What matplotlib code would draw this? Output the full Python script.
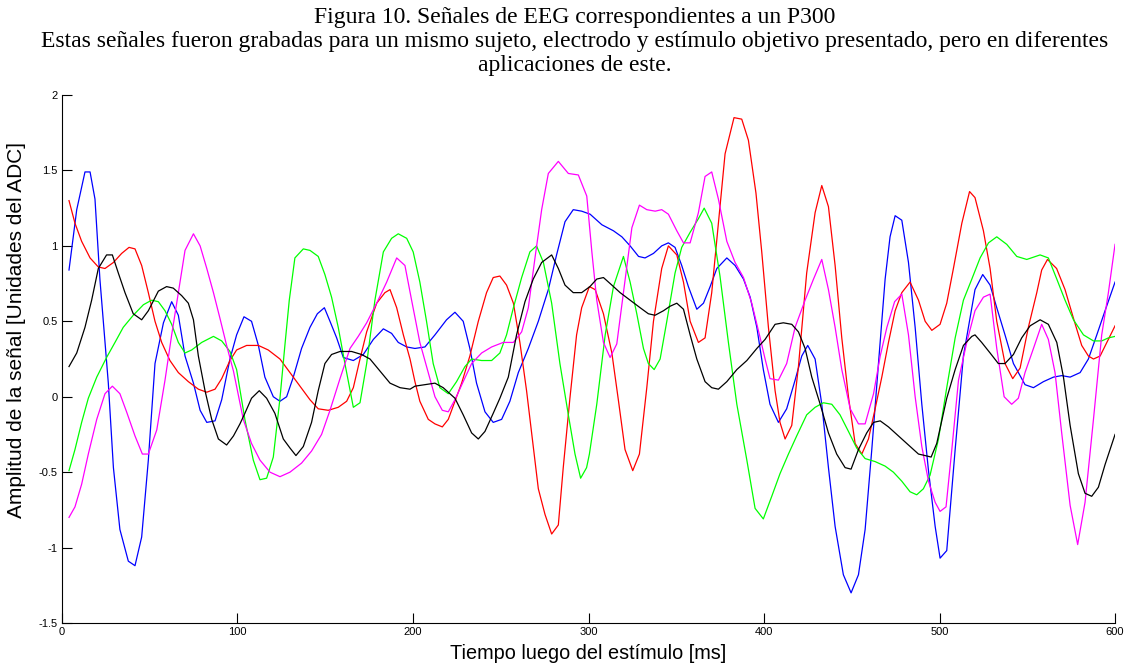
"""
EEG traces for one subject / electrode / target stimulus (P300), five trials.
Writes out.png.
"""

import numpy as np
import matplotlib
matplotlib.use("Agg")
import matplotlib.pyplot as plt

# ── Trial traces: (time [ms], amplitude [ADC units]) ─────────────────────────
blue = np.array([
    (4, 0.84), (8.4, 1.24), (13.1, 1.49), (16, 1.49), (18.8, 1.31), (21.6, 0.78),
    (26.4, 0.09), (29.3, -0.47), (33, -0.88), (37.8, -1.09), (41.6, -1.12),
    (45.4, -0.93), (49.2, -0.42), (53, 0.22), (57.8, 0.49), (62.5, 0.63),
    (66.3, 0.54), (70.1, 0.27), (74.9, 0.09), (78.7, -0.09), (82.5, -0.17),
    (87.2, -0.16), (91, -0.02), (95.7, 0.25), (99.5, 0.41), (103.7, 0.53),
    (108, 0.50), (111.9, 0.34), (115.6, 0.13), (120.4, 0.0), (124.2, -0.03),
    (128, 0.0), (131.8, 0.13), (136.5, 0.32), (141.3, 0.46), (145.5, 0.55),
    (149.5, 0.59), (152.7, 0.50), (156.5, 0.39), (160.3, 0.26), (166, 0.24),
    (171.7, 0.28), (177.4, 0.38), (183.1, 0.45), (187.8, 0.42), (191.6, 0.36),
    (196.4, 0.33), (201.1, 0.32), (206.8, 0.33), (212.5, 0.41), (219.1, 0.51),
    (223.9, 0.56), (228.6, 0.50), (232.4, 0.32), (236.2, 0.09), (241, -0.10),
    (245.7, -0.17), (250.5, -0.15), (255.2, -0.03), (260, 0.16), (265.7, 0.32),
    (271.4, 0.50), (277.1, 0.71), (281.8, 0.94), (286.6, 1.16), (291.3, 1.24),
    (296.1, 1.23), (300.9, 1.21), (307.6, 1.14), (314.2, 1.10), (319, 1.06),
    (323.7, 1.0), (328.5, 0.93), (332.2, 0.92), (337, 0.95), (341.7, 1.0),
    (345.5, 1.02), (349.3, 0.99), (353.1, 0.87), (356.9, 0.73), (361.7, 0.58),
    (365.5, 0.62), (369.3, 0.73), (373.1, 0.85), (378.8, 0.92), (383.5, 0.87),
    (388.3, 0.78), (392.1, 0.66), (395.9, 0.46), (399.6, 0.18), (403.4, -0.05),
    (408.2, -0.17), (412.9, -0.08), (417.7, 0.11), (421.5, 0.27), (424.9, 0.34),
    (429.1, 0.25), (432.9, -0.05), (436.7, -0.47), (440.5, -0.86), (445.2, -1.18),
    (449.6, -1.30), (453.8, -1.18), (457.6, -0.88), (461.4, -0.35), (465.2, 0.22),
    (469, 0.78), (471.8, 1.06), (474.7, 1.20), (478.5, 1.17), (482.3, 0.89),
    (486.1, 0.46), (489.9, -0.05), (493.7, -0.49), (497.5, -0.86), (500.3, -1.07),
    (504.1, -1.02), (508.9, -0.35), (513.6, 0.27), (520.2, 0.71), (524.6, 0.81),
    (528.8, 0.74), (532.6, 0.59), (537.3, 0.41), (542.1, 0.22), (548.7, 0.08),
    (553.5, 0.06), (559.2, 0.10), (564.9, 0.13), (569.6, 0.14), (574.4, 0.13),
    (580.1, 0.16), (584.8, 0.25), (589.6, 0.41), (594.3, 0.57), (600, 0.76),
])

red = np.array([
    (4, 1.30), (7.4, 1.15), (11.2, 1.03), (16, 0.92), (20.7, 0.86), (24.5, 0.85),
    (29.3, 0.89), (34, 0.95), (38.2, 0.99), (41.6, 0.98), (45.4, 0.87),
    (49.2, 0.69), (53, 0.50), (56.8, 0.36), (61.5, 0.24), (66.3, 0.16), (72, 0.10),
    (77.7, 0.05), (82.5, 0.03), (87.2, 0.05), (91, 0.12), (95.7, 0.24),
    (99.5, 0.31), (105.2, 0.34), (111.9, 0.34), (117.5, 0.31), (124.2, 0.25),
    (129.9, 0.16), (135.6, 0.07), (141.3, -0.02), (146, -0.08), (151.7, -0.09),
    (157.4, -0.07), (162.2, -0.03), (166, 0.06), (169.8, 0.25), (173.6, 0.43),
    (179.3, 0.62), (184, 0.69), (186.9, 0.71), (190.7, 0.59), (194.5, 0.41),
    (198.3, 0.25), (201.1, 0.10), (203.9, -0.03), (208.7, -0.15), (212.5, -0.18),
    (216.7, -0.20), (220.1, -0.15), (223.9, -0.03), (227.7, 0.09), (232.4, 0.27),
    (237.2, 0.50), (241.9, 0.69), (245.7, 0.79), (249.5, 0.80), (253.3, 0.74),
    (257.2, 0.62), (260.9, 0.36), (264.7, 0.04), (268.5, -0.33), (271.4, -0.61),
    (275.2, -0.78), (279, -0.91), (282.8, -0.85), (285.6, -0.47), (289.4, -0.01),
    (293.2, 0.41), (296.1, 0.59), (300.5, 0.73), (303.8, 0.71), (308.5, 0.55),
    (313.3, 0.29), (317.1, -0.03), (320.8, -0.35), (325.2, -0.49), (329, -0.38),
    (333.2, 0.06), (337, 0.50), (341.7, 0.85), (345.5, 1.0), (350.3, 0.94),
    (354.1, 0.76), (357.9, 0.50), (362.6, 0.36), (366.4, 0.39), (370.2, 0.69),
    (374, 1.15), (377.8, 1.61), (382.9, 1.85), (387.3, 1.84), (391.1, 1.70),
    (395.4, 1.35), (398.7, 0.96), (402.5, 0.46), (406.3, 0.04), (409.1, -0.17),
    (412, -0.28), (415.8, -0.19), (419.6, 0.2), (424.3, 0.82), (429.1, 1.22),
    (432.9, 1.40), (436.7, 1.26), (440.5, 0.87), (444.3, 0.39), (448.1, 0.0),
    (451.9, -0.31), (455.7, -0.38), (459.5, -0.28), (463.3, -0.08), (467.1, 0.13),
    (470.9, 0.36), (474.7, 0.57), (478.5, 0.69), (483.2, 0.76), (488, 0.64),
    (491.8, 0.50), (495.6, 0.44), (500.3, 0.48), (504.1, 0.62), (507.9, 0.85),
    (512.7, 1.15), (517.1, 1.36), (520.2, 1.32), (525, 1.10), (528.8, 0.85),
    (532.6, 0.50), (537.3, 0.22), (541.7, 0.12), (545.9, 0.19), (550.6, 0.46),
    (555.4, 0.69), (558.2, 0.84), (561.5, 0.91), (566.7, 0.85), (571.5, 0.71),
    (576.3, 0.52), (581, 0.34), (584.8, 0.27), (587.7, 0.25), (591.5, 0.27),
    (595.3, 0.36), (600, 0.47),
])

black = np.array([
    (4, 0.20), (8.4, 0.29), (13.1, 0.46), (16.9, 0.64), (20.7, 0.85), (25.4, 0.94),
    (28.7, 0.94), (32.1, 0.82), (35.9, 0.69), (40.6, 0.55), (45.4, 0.51),
    (49.2, 0.57), (54.9, 0.70), (59.6, 0.73), (63.4, 0.72), (68.2, 0.67),
    (72, 0.62), (74.9, 0.51), (77.7, 0.27), (81.5, 0.04), (85.3, -0.15),
    (89.1, -0.28), (93.8, -0.32), (97.7, -0.26), (101.4, -0.18), (104.2, -0.11),
    (108, -0.01), (112.4, 0.04), (116.6, -0.01), (121.3, -0.11), (126.1, -0.28),
    (129.9, -0.34), (133.3, -0.39), (137.5, -0.33), (142.2, -0.17), (146, 0.04),
    (149.8, 0.22), (153.6, 0.28), (158.4, 0.30), (165, 0.30), (170.7, 0.28),
    (175.5, 0.25), (181.2, 0.17), (186.9, 0.09), (192.6, 0.06), (198.3, 0.05),
    (201.1, 0.07), (206.8, 0.08), (212.5, 0.09), (217.2, 0.06), (223.9, -0.01),
    (228.6, -0.12), (233.4, -0.24), (237.2, -0.28), (241, -0.23), (245.7, -0.11),
    (249.5, -0.01), (254.3, 0.13), (259, 0.41), (263.8, 0.63), (268.5, 0.78),
    (273.3, 0.89), (279, 0.94), (282.8, 0.85), (286.6, 0.74), (291.3, 0.69),
    (296.1, 0.69), (300.8, 0.73), (304.7, 0.78), (308.5, 0.79), (313.3, 0.74),
    (318, 0.69), (323.7, 0.64), (329.4, 0.59), (334.1, 0.55), (337.9, 0.54),
    (342.7, 0.57), (346.5, 0.60), (350.3, 0.62), (354.1, 0.58), (357.9, 0.41),
    (361.7, 0.25), (366.4, 0.10), (370.2, 0.06), (374, 0.05), (378.8, 0.10),
    (384.5, 0.18), (390.2, 0.24), (395.9, 0.32), (400.6, 0.38), (406.3, 0.48),
    (411, 0.49), (415.8, 0.48), (419.6, 0.43), (423.4, 0.32), (427.2, 0.13),
    (432, -0.05), (436.7, -0.24), (441.4, -0.38), (446.2, -0.47), (449.6, -0.48),
    (453.8, -0.35), (458.5, -0.24), (462.4, -0.17), (466.2, -0.16), (470.9, -0.20),
    (476.6, -0.26), (482.3, -0.32), (488, -0.38), (491.8, -0.39), (495.2, -0.40),
    (498.4, -0.31), (500.3, -0.21), (504.1, -0.01), (508.9, 0.18), (513.6, 0.34),
    (518.4, 0.40), (520.2, 0.41), (524, 0.36), (528.8, 0.29), (533.5, 0.22),
    (537.3, 0.22), (542.1, 0.28), (546.8, 0.39), (551.6, 0.47), (557.3, 0.51),
    (562, 0.48), (566.8, 0.36), (570.6, 0.13), (574.4, -0.19), (579.1, -0.51),
    (582.9, -0.64), (586.7, -0.66), (590.5, -0.60), (594.3, -0.45), (600, -0.25),
])

green = np.array([
    (4, -0.49), (7.4, -0.35), (11.2, -0.17), (15, -0.01), (19.8, 0.13),
    (25.4, 0.26), (30.2, 0.36), (34.9, 0.46), (40.6, 0.54), (46.4, 0.61),
    (51.1, 0.64), (54.9, 0.63), (58.7, 0.57), (62.5, 0.48), (66.3, 0.36),
    (70.1, 0.29), (73.9, 0.31), (79.6, 0.36), (86.3, 0.40), (91, 0.37),
    (95.7, 0.30), (99.5, 0.18), (104.2, -0.15), (109, -0.42), (112.8, -0.55),
    (116.6, -0.54), (120.4, -0.40), (124.2, -0.01), (127, 0.34), (129.5, 0.64),
    (132.7, 0.92), (137.5, 0.98), (141.3, 0.97), (146, 0.93), (149.8, 0.81),
    (153.6, 0.66), (157.4, 0.46), (161.2, 0.22), (166, -0.07), (169.8, -0.04),
    (173.6, 0.22), (178.3, 0.64), (183.1, 0.96), (187.8, 1.05), (191.6, 1.08),
    (196.4, 1.05), (200.1, 0.96), (203.9, 0.76), (207.7, 0.50), (211.5, 0.22),
    (215.3, 0.06), (220.1, 0.02), (224.8, 0.10), (229.6, 0.20), (233.4, 0.25),
    (239.1, 0.24), (244.8, 0.24), (249.5, 0.29), (253.3, 0.41), (257.2, 0.59),
    (261.9, 0.79), (266.6, 0.96), (270.4, 1.0), (274.3, 0.89), (279, 0.62),
    (283.7, 0.22), (288.5, -0.12), (292.3, -0.38), (295.5, -0.54), (298.9, -0.47),
    (300.5, -0.38), (304.7, -0.05), (309.5, 0.41), (314.2, 0.73), (319.9, 0.93),
    (323.7, 0.76), (327.5, 0.55), (331.3, 0.32), (334.1, 0.22), (337.4, 0.18),
    (340.8, 0.25), (344.6, 0.50), (349.3, 0.82), (353.1, 0.99), (357.9, 1.09),
    (362.6, 1.18), (365.9, 1.25), (370.2, 1.15), (374.9, 0.80), (379.7, 0.36),
    (384.5, -0.05), (390.2, -0.42), (394.9, -0.74), (399.6, -0.81), (404.4, -0.66),
    (409.1, -0.51), (413.9, -0.38), (418.6, -0.26), (424.3, -0.12), (429.1, -0.07),
    (433.8, -0.04), (438.6, -0.05), (443.3, -0.12), (448.1, -0.23), (452.8, -0.34),
    (457.6, -0.41), (463.3, -0.43), (469, -0.46), (473.7, -0.50), (478.5, -0.56),
    (483.2, -0.63), (487, -0.65), (490.8, -0.61), (494.6, -0.52), (499.4, -0.28),
    (504.1, 0.06), (508.9, 0.39), (513.6, 0.64), (518.4, 0.78), (523.1, 0.92),
    (527.9, 1.02), (532.6, 1.06), (538.3, 1.01), (544, 0.93), (549.7, 0.91),
    (557.3, 0.94), (562, 0.92), (566.8, 0.78), (571.5, 0.64), (576.3, 0.51),
    (582, 0.41), (587.7, 0.37), (592.4, 0.37), (596.2, 0.39), (600, 0.40),
])

magenta = np.array([
    (4, -0.80), (7.4, -0.73), (11.2, -0.58), (15, -0.38), (19.8, -0.15),
    (24.5, 0.02), (28.7, 0.07), (33, 0.02), (36.8, -0.10), (41.6, -0.26),
    (45.8, -0.38), (49.2, -0.38), (54, -0.22), (58.7, 0.11), (62.5, 0.41),
    (66.3, 0.69), (70.1, 0.97), (74.9, 1.08), (78.7, 1.0), (82.5, 0.85),
    (86.3, 0.69), (90, 0.52), (93.8, 0.34), (97.7, 0.17), (101.4, -0.04),
    (103.3, -0.15), (108, -0.31), (112.8, -0.42), (118.5, -0.50), (124.2, -0.53),
    (129.9, -0.50), (136.5, -0.44), (142.2, -0.36), (147.9, -0.25), (152.7, -0.09),
    (158.4, 0.12), (164.1, 0.32), (168.8, 0.40), (173.6, 0.49), (179.3, 0.62),
    (185, 0.76), (190.7, 0.92), (195.4, 0.87), (199.2, 0.64), (203.9, 0.36),
    (208.7, 0.16), (212.5, 0.0), (216.7, -0.09), (220.1, -0.10), (223.9, -0.02),
    (228.6, 0.10), (233.4, 0.22), (239.1, 0.29), (244.8, 0.33), (251.4, 0.36),
    (257.2, 0.36), (261.9, 0.43), (265.7, 0.59), (269.5, 0.92), (273.3, 1.24),
    (277.1, 1.48), (282.8, 1.56), (288.5, 1.48), (294.2, 1.47), (299, 1.33),
    (301.9, 0.96), (304.7, 0.64), (308.5, 0.36), (312.3, 0.26), (316.1, 0.35),
    (319.9, 0.69), (324.7, 1.12), (329, 1.27), (333.2, 1.24), (338, 1.23),
    (341.7, 1.24), (345.5, 1.21), (350.3, 1.10), (354.1, 1.02), (357.9, 1.02),
    (362.6, 1.22), (366.4, 1.46), (370.2, 1.49), (374, 1.31), (378.8, 1.03),
    (383.5, 0.89), (388.3, 0.79), (393, 0.62), (397.8, 0.39), (400.6, 0.25),
    (403.4, 0.12), (408.2, 0.11), (412.9, 0.22), (417.7, 0.46), (423.4, 0.64),
    (428.2, 0.78), (432.9, 0.91), (436.7, 0.71), (440.5, 0.46), (444.3, 0.18),
    (449.1, -0.08), (453.8, -0.18), (457.6, -0.18), (462.4, 0.02), (466.2, 0.27),
    (470, 0.46), (474.4, 0.63), (478.5, 0.68), (482.3, 0.41), (486.1, 0.0),
    (489.9, -0.33), (493.7, -0.56), (497.5, -0.70), (500.3, -0.76), (503.7, -0.73),
    (507, -0.35), (510.8, 0.11), (515.5, 0.36), (520.2, 0.57), (525, 0.66),
    (528.8, 0.68), (532.6, 0.32), (536.8, 0.0), (541.1, -0.05), (544.9, -0.01),
    (548.7, 0.16), (553.5, 0.32), (558.2, 0.48), (562, 0.38), (565.8, 0.16),
    (569.6, -0.24), (574.4, -0.72), (578.7, -0.98), (582.9, -0.70), (587.7, -0.15),
    (592.4, 0.41), (596.2, 0.69), (600, 1.01),
])

traces = [(blue, "#0000ff"), (red, "#ff0000"), (green, "#00ff00"),
          (magenta, "#ff00ff"), (black, "#000000")]

x_ticks = [0, 100, 200, 300, 400, 500, 600]
y_ticks = [-1.5, -1, -0.5, 0, 0.5, 1, 1.5, 2]
y_tick_labels = ["-1.5", "-1", "-0.5", "0", "0.5", "1", "1.5", "2"]

title_lines = (
    "Figura 10. Señales de EEG correspondientes a un P300\n"
    "Estas señales fueron grabadas para un mismo sujeto, electrodo y estímulo "
    "objetivo presentado, pero en diferentes\n"
    "aplicaciones de este."
)


def main() -> None:
    fig = plt.figure(figsize=(11.27, 6.63), dpi=100)
    ax = fig.add_axes([0.055, 0.0603, 0.9344, 0.7964])

    for data, color in traces:
        ax.plot(data[:, 0], data[:, 1], color=color, linewidth=0.9)

    ax.set_xlim(0, 600)
    ax.set_ylim(-1.5, 2)
    ax.set_xticks(x_ticks)
    ax.set_yticks(y_ticks)
    ax.set_yticklabels(y_tick_labels)

    # MATLAB-like axes: box off, inward ticks
    ax.spines["top"].set_visible(False)
    ax.spines["right"].set_visible(False)
    ax.tick_params(direction="in", length=7, width=0.8, labelsize=8,
                   pad=3)
    for lbl in ax.get_xticklabels() + ax.get_yticklabels():
        lbl.set_family("Liberation Sans")

    ax.set_xlabel("Tiempo luego del estímulo [ms]", family="Liberation Sans",
                  fontsize=14.3, labelpad=5)
    ax.set_ylabel("Amplitud de la señal [Unidades del ADC]",
                  family="Liberation Sans", fontsize=15, labelpad=5)
    ax.yaxis.set_label_coords(-0.034, 0.555)

    fig.text(0.51, 0.990, title_lines, ha="center", va="top",
             family="Liberation Serif", fontsize=17, linespacing=1.2)

    fig.savefig("out.png", dpi=100)
    plt.close(fig)


if __name__ == "__main__":
    main()
